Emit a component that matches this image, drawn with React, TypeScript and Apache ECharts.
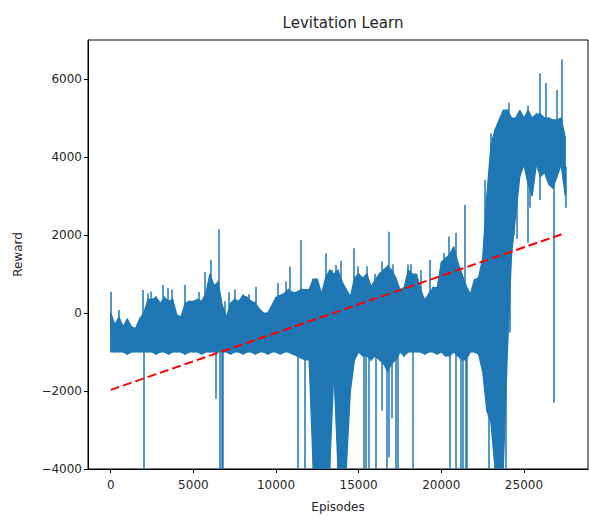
import React, { useEffect, useRef } from "react";
import * as echarts from "echarts";

// Dense reward band, one bin every 250 episodes (0 … 27500)
const EPISODE_STEP = 250;
const bandTop = [
  0, -300, -100, -350, -150, -350, -400, -150, 0, 350,
  350, 400, 250, 400, 300, 350, -50, -100, 250, 300,
  300, 350, 300, 500, 1000, 700, 800, 200, -100, 250,
  350, 300, 450, 400, 300, 250, 100, 0, 0, 200,
  400, 450, 500, 600, 530, 530, 600, 600, 600, 870,
  870, 500, 900, 1100, 1000, 1100, 800, 600, 420, 900,
  1000, 900, 1000, 680, 850, 1000, 1100, 1200, 1100, 900,
  600, 650, 1100, 1000, 1000, 600, 330, 500, 650, 650,
  1300, 1400, 1500, 1700, 1300, 1000, 700, 490, 850, 900,
  1400, 3000, 4300, 4700, 4950, 5200, 5200, 5000, 5000, 5200,
  5000, 5200, 5000, 5100, 5100, 5000, 5000, 4950, 4950, 5000,
  4500,
];
const bandBottom = [
  -1000, -1000, -1000, -1000, -1050, -1000, -1000, -1000, -1000, -1000,
  -1000, -1050, -1000, -1000, -1050, -1000, -1000, -1000, -1050, -1000,
  -1000, -1000, -1050, -1000, -1000, -1000, -1000, -1000, -1000, -1050,
  -1000, -1000, -1050, -1000, -1000, -1050, -1000, -1000, -1050, -1000,
  -1000, -1050, -1000, -1000, -1050, -1100, -1150, -1200, -1200, -4000,
  -4000, -4000, -4000, -4000, -1500, -4000, -4000, -4000, -2000, -1200,
  -1000, -1100, -1100, -1200, -1100, -1200, -1300, -1500, -1300, -1200,
  -1000, -1100, -1000, -1000, -1000, -1000, -1050, -1000, -1000, -1050,
  -1000, -1100, -1100, -1000, -1100, -1200, -1200, -1000, -1000, -1050,
  -1500, -2500, -2800, -4000, -4000, -4000, -1000, 1500, 2500, 3500,
  3800, 3300, 3000, 3800, 3500, 3600, 3300, 3200, 3500, 3800,
  3000,
];

// Narrow excursions out of the band: episode and the reward they reach
const spikeEpisodes = [
  0, 500, 1950, 2210, 2450, 2750, 3160, 3460, 3680, 4480,
  5330, 5690, 6060, 6560, 6900, 7160, 7500, 7900, 8380, 8800,
  10130, 10600, 10850, 11500, 12250, 12990, 13350, 13600, 13900, 14720,
  14950, 15490, 16000, 16400, 16800, 17050, 18000, 18150, 18750, 19330,
  20130, 20450, 20880, 21400, 22600, 23000, 24100, 25250, 25950, 26330,
  27000, 27300,
  2000, 6370, 6620, 6700, 6800, 11310, 11740, 15300, 15450, 15600,
  16060, 16400, 16700, 16850, 17000, 17250, 17350, 18260, 20520, 20860,
  21150, 21300, 21450, 21540, 22800, 22900, 23900, 24120, 24400, 24550,
  25200, 25350, 25950, 26800, 27500,
];
const spikeRewards = [
  546, 80, 590, 500, 550, 420, 720, 640, 600, 720,
  540, 1050, 1360, 2150, 300, 530, 600, 420, 480, 675,
  770, 810, 1190, 1870, 870, 1530, 1100, 1230, 1340, 1660,
  1200, 1200, 1000, 1320, 2085, 1250, 1250, 1250, 1100, 1360,
  1540, 1960, 2060, 2770, 3410, 4610, 5390, 5320, 6150, 5900,
  5720, 6500,
  -4000, -2200, -4000, -4000, -4000, -4000, -4000, -4000, -4000, -4000,
  -4000, -2500, -4000, -3700, -2700, -4000, -4000, -4000, -4000, -4000,
  -4000, -4000, -4000, -4000, -1900, -4000, -4000, -500, 2000, 1900,
  1800, 2700, 2900, -2300, 2700,
];

// Linear trend (red dashed)
const trendEpisodes = [0, 27500];
const trendRewards = [-1970, 2050];

const xTicks = [0, 5000, 10000, 15000, 20000, 25000];
const yTicks = [-4000, -2000, 0, 2000, 4000, 6000];

const FONT = "DejaVu Sans";
const TEXT = "#262626";
const BLUE = "#1f77b4";

const minus = (v: number) => String(v).replace("-", "\u2212");

function bandMid(ep: number) {
  const i = Math.max(0, Math.min(bandTop.length - 1, Math.round(ep / EPISODE_STEP)));
  return (bandTop[i] + bandBottom[i]) / 2;
}

export default function App() {
  const ref = useRef<HTMLDivElement>(null);
  useEffect(() => {
    if (!ref.current) return;
    const chart = echarts.init(ref.current, undefined, { renderer: "svg" });
    const bandData = bandTop.map((t, i) => [i * EPISODE_STEP, t, bandBottom[i]]);
    const spikeLines = spikeEpisodes.map((ep, i) => ({
      coords: [
        [ep, bandMid(ep)],
        [ep, spikeRewards[i]],
      ],
    }));
    chart.setOption({
      animation: false,
      backgroundColor: "#fff",
      title: {
        text: "Levitation Learn",
        left: 338,
        textAlign: "center",
        top: 10,
        textStyle: { fontFamily: FONT, fontSize: 15, fontWeight: "normal", color: TEXT },
      },
      grid: {
        left: 88,
        right: 1,
        top: 40,
        bottom: 47,
        show: true,
        borderColor: "#000",
        borderWidth: 1,
        outerBoundsMode: "none",
        containLabel: false,
      },
      xAxis: {
        type: "value",
        min: -1375,
        max: 28875,
        splitLine: { show: false },
        axisLine: { show: true, onZero: false, lineStyle: { color: "#000", width: 1 } },
        axisTick: { show: true, inside: false, length: 4, customValues: xTicks, lineStyle: { color: "#000" } },
        axisLabel: {
          customValues: xTicks,
          formatter: minus,
          color: TEXT,
          fontFamily: FONT,
          fontSize: 12,
          margin: 10,
        },
        name: "Episodes",
        nameLocation: "middle",
        nameGap: 32,
        nameTextStyle: { fontFamily: FONT, fontSize: 12, color: TEXT },
      },
      yAxis: {
        type: "value",
        min: -4000,
        max: 7000,
        splitLine: { show: false },
        axisLine: { show: true, onZero: false, lineStyle: { color: "#000", width: 1 } },
        axisTick: { show: true, inside: false, length: 4, customValues: yTicks, lineStyle: { color: "#000" } },
        axisLabel: {
          customValues: yTicks,
          formatter: minus,
          color: TEXT,
          fontFamily: FONT,
          fontSize: 12,
          margin: 6,
        },
        name: "Reward",
        nameLocation: "middle",
        nameGap: 64,
        nameTextStyle: { fontFamily: FONT, fontSize: 12, color: TEXT },
      },
      series: [
        {
          type: "custom",
          data: bandData,
          encode: { x: 0, y: [1, 2] },
          clip: true,
          z: 2,
          renderItem: (params: any, api: any) => {
            const i = params.dataIndex;
            if (i >= bandTop.length - 1) return null;
            const e0 = i * EPISODE_STEP;
            const e1 = (i + 1) * EPISODE_STEP;
            const pts = [
              api.coord([e0, bandTop[i]]),
              api.coord([e1, bandTop[i + 1]]),
              api.coord([e1, bandBottom[i + 1]]),
              api.coord([e0, bandBottom[i]]),
            ];
            return {
              type: "polygon",
              shape: { points: pts },
              style: { fill: BLUE, stroke: BLUE, lineWidth: 1.2 },
            };
          },
        },
        {
          type: "lines",
          coordinateSystem: "cartesian2d",
          data: spikeLines,
          clip: true,
          lineStyle: { color: BLUE, width: 1.5, opacity: 1 },
          z: 2,
        },
        {
          type: "line",
          data: trendEpisodes.map((e, i) => [e, trendRewards[i]]),
          symbol: "none",
          showSymbol: false,
          clip: true,
          lineStyle: { color: "#ff0000", width: 2, type: [9, 4] },
          z: 3,
        },
      ],
    });
    return () => chart.dispose();
  }, []);
  return (
    <div
      ref={ref}
      style={{ position: "fixed", left: 0, top: 0, width: 589, height: 516 }}
    />
  );
}
